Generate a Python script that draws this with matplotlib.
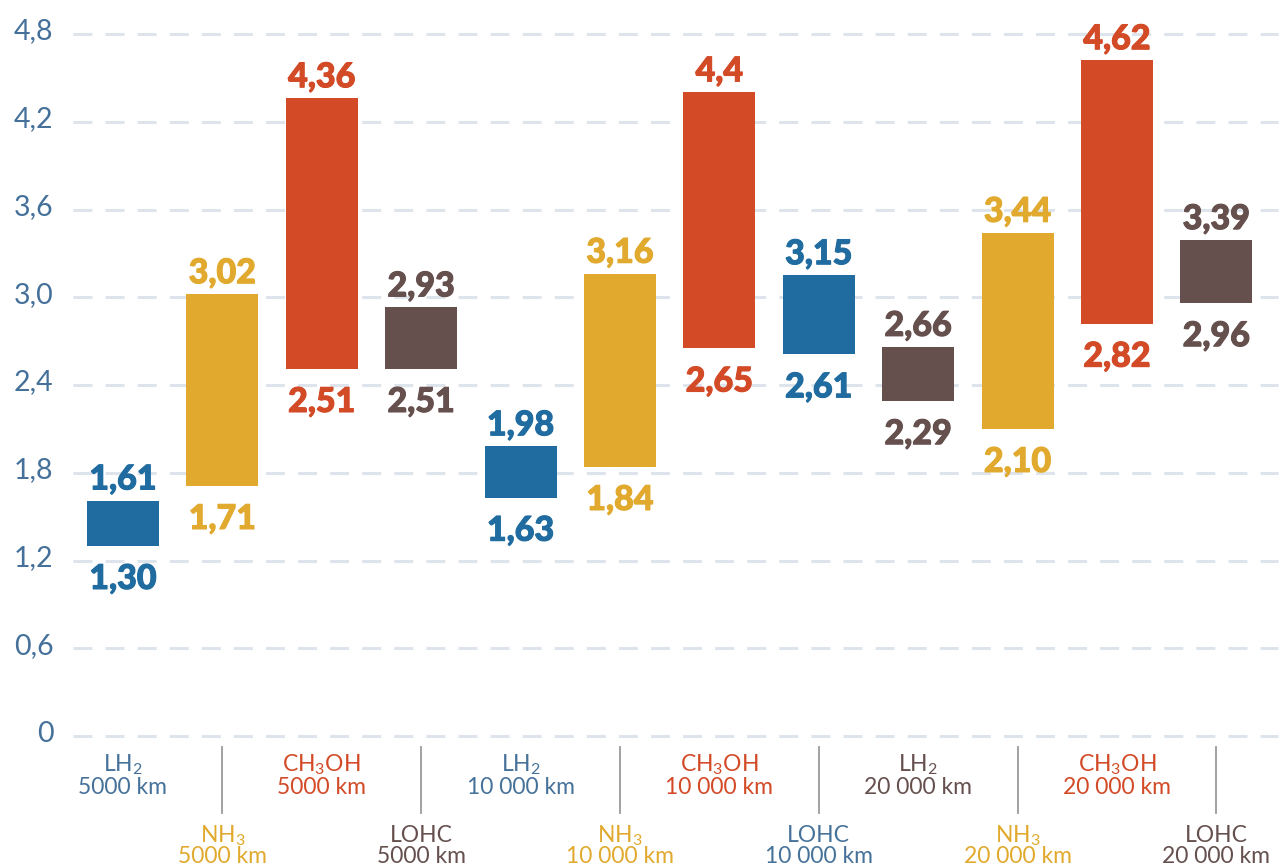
import numpy as np
import matplotlib
matplotlib.use("Agg")
import matplotlib.pyplot as plt
import matplotlib.transforms as mtransforms
import matplotlib.patheffects as pe
from matplotlib.lines import Line2D

plt.rcParams['font.family'] = ['Lato', 'DejaVu Sans']

# podatki: spodnja in zgornja meja za vsak stolpec
nosilci = [r"LH$_\mathregular{2}$", r"NH$_\mathregular{3}$", r"CH$_\mathregular{3}$OH", "LOHC"] * 3
razdalje = ["5000 km"] * 4 + ["10 000 km"] * 4 + ["20 000 km"] * 4
spodaj = [1.30, 1.71, 2.51, 2.51, 1.63, 1.84, 2.65, 2.61, 2.29, 2.10, 2.82, 2.96]
zgoraj = [1.61, 3.02, 4.36, 2.93, 1.98, 3.16, 4.40, 3.15, 2.66, 3.44, 4.62, 3.39]
zgoraj_napisi = ["1,61", "3,02", "4,36", "2,93", "1,98", "3,16", "4,4", "3,15", "2,66", "3,44", "4,62", "3,39"]
y_oznake = [0, 0.6, 1.2, 1.8, 2.4, 3.0, 3.6, 4.2, 4.8]

modra = "#206ca0"
rumena = "#e1aa2f"
rdeca = "#d34a27"
rjava = "#65504e"
barve = [modra, rumena, rdeca, rjava,
         modra, rumena, rdeca, modra,
         rjava, rumena, rdeca, rjava]
barve_napisov = {modra: "#46729a"}
os_barva = "#44709a"

W, H = 1280, 865
fig = plt.figure(figsize=(W / 100, H / 100), dpi=100)
ax = fig.add_axes([73 / W, (H - 736) / H, (1278 - 73) / W, 702 / H])

x = np.arange(len(spodaj))
visine = np.array(zgoraj) - np.array(spodaj)
ax.bar(x, visine, bottom=spodaj, width=0.725, color=barve, zorder=3)

ax.set_xlim(-0.503, 11.62)
ax.set_ylim(0, 4.8)
ax.set_yticks(y_oznake)
ax.set_yticklabels(["0" if v == 0 else f"{v:.1f}".replace(".", ",") for v in y_oznake])
for s in ax.spines.values():
    s.set_visible(False)
ax.tick_params(axis="y", length=0, pad=14, labelsize=20.5, labelcolor=os_barva)
ax.tick_params(axis="x", bottom=False, labelbottom=False)
premik = mtransforms.ScaledTranslation(0, 5 / 100, fig.dpi_scale_trans)
for lab in ax.get_yticklabels():
    lab.set_transform(lab.get_transform() + premik)

ax.set_axisbelow(True)
ax.yaxis.grid(True, color="#dde4ec", linewidth=2.2, linestyle=(0, (6.2, 4.3)))
for l in ax.get_ygridlines():
    l.set_clip_on(False)

# vrednosti nad in pod stolpci (malo odebeljene)
for i in x:
    c = barve[i]
    debelo = [pe.Stroke(linewidth=0.8, foreground=c), pe.Normal()]
    ax.annotate(zgoraj_napisi[i], (i, zgoraj[i]), xytext=(0, 8), textcoords="offset points",
                ha="center", va="baseline", fontsize=24.5, fontweight="black", color=c,
                zorder=4, path_effects=debelo)
    ax.annotate(f"{spodaj[i]:.2f}".replace(".", ","), (i, spodaj[i]), xytext=(0, -31),
                textcoords="offset points", ha="center", va="baseline", fontsize=24.5,
                fontweight="black", color=c, zorder=4, path_effects=debelo)

# oznake kategorij pod osjo
tr = mtransforms.blended_transform_factory(ax.transData, fig.transFigure)
for i in x:
    c = barve_napisov.get(barve[i], barve[i])
    if i % 2 == 0:
        y1, y2 = 771, 794
    else:
        y1, y2 = 842, 863
        fig.add_artist(Line2D([i, i], [1 - 747 / H, 1 - 813 / H], transform=tr,
                              color="#9a9a9a", linewidth=1.3))
    fig.text(i, 1 - y1 / H, nosilci[i], transform=tr, ha="center", va="baseline",
             fontsize=16.5, color=c)
    fig.text(i, 1 - y2 / H, razdalje[i], transform=tr, ha="center", va="baseline",
             fontsize=16.5, color=c)

fig.savefig("out.png", dpi=100)
